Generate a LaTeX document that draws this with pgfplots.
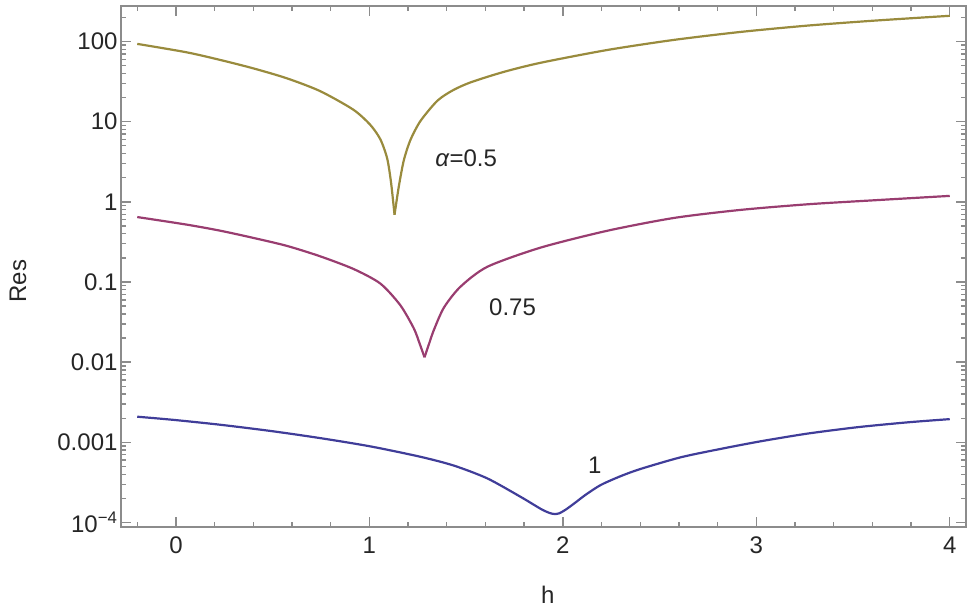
\documentclass[border=0pt]{standalone}
\usepackage{fontspec}
\setmainfont{Liberation Sans}
\usepackage{pgfplots}
\pgfplotsset{compat=1.18}
\usetikzlibrary{calc}

\definecolor{cblue}{rgb}{0.25,0.24,0.60}
\definecolor{cmag}{rgb}{0.60,0.24,0.44}
\definecolor{colive}{rgb}{0.60,0.546,0.24}
\definecolor{axgray}{gray}{0.55}

% alpha = 0.5
\pgfplotstableread{
h res
-0.2 93.3
0.055 73.3
0.228 58.9
0.40 46.2
0.574 34.7
0.746 24.0
0.917 14.1
1.005 9.1
1.057 6.0
1.092 3.47
1.112 1.74
1.13 0.69
1.152 1.55
1.178 3.3
1.212 5.9
1.264 10.2
1.351 18.2
1.43 24.5
1.523 30.9
1.694 41.7
1.886 54.3
2.232 78.5
2.575 104.7
2.922 131.8
3.268 158
3.611 182
4.0 209
}\resA

% alpha = 0.75
\pgfplotstableread{
h res
-0.2 0.646
0.055 0.52
0.228 0.437
0.40 0.355
0.574 0.282
0.746 0.209
0.919 0.145
1.057 0.0955
1.16 0.0513
1.23 0.0263
1.26 0.017
1.285 0.0115
1.31 0.0174
1.333 0.0251
1.385 0.0479
1.47 0.087
1.61 0.155
1.886 0.269
2.232 0.437
2.577 0.631
2.92 0.794
3.268 0.933
3.613 1.047
4.0 1.186
}\resB

% alpha = 1
\pgfplotstableread{
h res
-0.2 0.00209
-0.014 0.00191
0.228 0.00166
0.487 0.00139
0.746 0.00113
1.005 0.000891
1.264 0.000661
1.437 0.000513
1.61 0.000355
1.782 0.000209
1.886 0.000148
1.93 0.000132
1.955 0.000128
1.98 0.000130
2.015 0.000145
2.06 0.000174
2.12 0.000224
2.197 0.000295
2.3 0.00038
2.404 0.000468
2.611 0.000653
2.819 0.000832
3.026 0.001035
3.268 0.00129
3.527 0.00155
3.785 0.00178
4.0 0.00195
}\resC

\begin{document}
\begin{tikzpicture}
\begin{axis}[
  scale only axis,
  width=845pt, height=521pt,
  ymode=log,
  xmin=-0.284, xmax=4.084,
  ymin=8.8e-5, ymax=277,
  axis line style={axgray, line width=1.6pt},
  every tick/.style={axgray, line width=1.4pt},
  major tick length=10pt,
  minor tick length=5.5pt,
  xtick={0,1,2,3,4},
  minor xtick={-0.2,0.2,0.4,0.6,0.8,1.2,1.4,1.6,1.8,2.2,2.4,2.6,2.8,3.2,3.4,3.6,3.8,4.0},
  ytick={1e-4,1e-3,1e-2,0.1,1,10,100},
  yticklabels={10\textsuperscript{−4},0.001,0.01,0.1,1,10,100},
  minor ytick={2e-4,3e-4,4e-4,5e-4,6e-4,7e-4,8e-4,9e-4,
    2e-3,3e-3,4e-3,5e-3,6e-3,7e-3,8e-3,9e-3,
    0.02,0.03,0.04,0.05,0.06,0.07,0.08,0.09,
    0.2,0.3,0.4,0.5,0.6,0.7,0.8,0.9,
    2,3,4,5,6,7,8,9,
    20,30,40,50,60,70,80,90,200},
  /pgf/number format/assume math mode=true,
  tick label style={font=\fontsize{24}{28}\selectfont, text=black!85},
  xticklabel style={yshift=-6pt},
  xlabel={h},
  ylabel={Res},
  label style={font=\fontsize{24}{28}\selectfont, text=black!85},
  xlabel style={at={(axis description cs:0.505,-0.13)}, anchor=center},
  ylabel style={at={(axis description cs:-0.122,0.472)}, anchor=center},
  every axis plot/.append style={line width=2.2pt, smooth, tension=0.45},
]
% left and right branches drawn apart so each dip keeps its point
\addplot[colive, skip coords between index={12}{40}] table[x=h, y=res] {\resA};
\addplot[colive, skip coords between index={0}{11}] table[x=h, y=res] {\resA};
\addplot[cmag, skip coords between index={12}{40}] table[x=h, y=res] {\resB};
\addplot[cmag, skip coords between index={0}{11}] table[x=h, y=res] {\resB};
\addplot[cblue] table[x=h, y=res] {\resC};
\node[font=\fontsize{24}{28}\selectfont, text=black!85] at (axis cs:1.50,3.5) {\textit{α}=0.5};
\node[font=\fontsize{24}{28}\selectfont, text=black!85] at (axis cs:1.74,0.049) {0.75};
\node[font=\fontsize{24}{28}\selectfont, text=black!85] at (axis cs:2.165,0.00052) {1};
\coordinate (SW) at (rel axis cs:0,0);
\coordinate (NE) at (rel axis cs:1,1);
\end{axis}
\pgfresetboundingbox
\path[use as bounding box] ($(SW)+(-121pt,-83pt)$) rectangle ($(NE)+(9pt,6pt)$);
\end{tikzpicture}
\end{document}
